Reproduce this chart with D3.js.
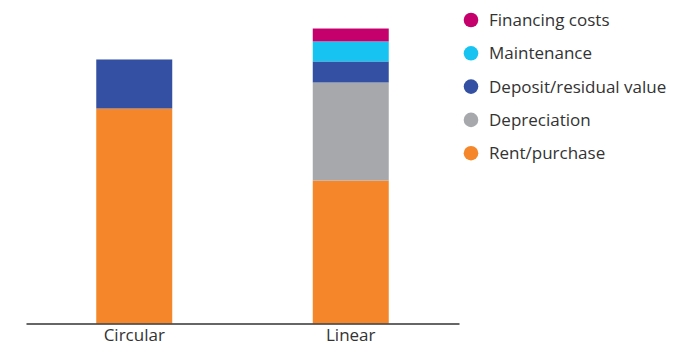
<!DOCTYPE html>
<html>
<head>
<meta charset="utf-8">
<script src="https://cdn.jsdelivr.net/npm/d3@7"></script>
<style>
  body { margin: 0; background: #fff; }
  text { font-family: "Open Sans", "Noto Sans", sans-serif; fill: #333; }
</style>
</head>
<body>
<div id="chart"></div>
<script>
// categories and series (bottom to top)
const categories = ['Circular', 'Linear'];
const seriesNames = ['Rent/purchase', 'Depreciation', 'Deposit/residual value', 'Maintenance', 'Financing costs'];
const rentPurchase = [100, 66.5];
const depreciation = [0, 45.6];
const depositResidual = [22.8, 9.8];
const maintenance = [0, 9.3];
const financingCosts = [0, 6.0];

const colors = ['#f5862a', '#a7a8ac', '#3450a2', '#17c3f1', '#c5006c'];

const W = 688, H = 347;
const baseY = 323.5;

const rows = categories.map(function (c, i) {
  return {
    cat: c,
    'Rent/purchase': rentPurchase[i],
    'Depreciation': depreciation[i],
    'Deposit/residual value': depositResidual[i],
    'Maintenance': maintenance[i],
    'Financing costs': financingCosts[i]
  };
});

const stacked = d3.stack().keys(seriesNames)(rows);

const x = d3.scaleBand()
  .domain(categories)
  .range([26, 459])
  .paddingInner(0.649)
  .paddingOuter(0.3245);

const y = d3.scaleLinear()
  .domain([0, 140])
  .range([baseY, baseY - 301]);

const svg = d3.select('#chart').append('svg')
  .attr('width', W)
  .attr('height', H);

// bars
svg.selectAll('g.layer')
  .data(stacked)
  .enter().append('g')
  .attr('class', 'layer')
  .attr('fill', function (d, i) { return colors[i]; })
  .selectAll('rect')
  .data(function (d) { return d; })
  .enter().append('rect')
  .attr('x', function (d) { return x(d.data.cat); })
  .attr('width', x.bandwidth())
  .attr('y', function (d) { return y(d[1]); })
  .attr('height', function (d) { return y(d[0]) - y(d[1]); });

// x axis
const axis = svg.append('g')
  .attr('transform', 'translate(0,' + baseY + ')')
  .call(d3.axisBottom(x).tickSize(0).tickSizeOuter(0).tickPadding(5));
axis.select('.domain').attr('stroke', '#333').attr('stroke-width', 1.3);
axis.selectAll('text')
  .style('font-size', '17px')
  .style('font-family', '"Open Sans", "Noto Sans", sans-serif')
  .attr('fill', '#333');

// legend (top to bottom)
const legendItems = seriesNames.slice().reverse();
const legend = svg.selectAll('.legend')
  .data(legendItems)
  .enter().append('g')
  .attr('class', 'legend')
  .attr('transform', function (d, i) {
    return 'translate(471,' + (20 + i * 33.3) + ')';
  });
legend.append('circle')
  .attr('r', 7.3)
  .attr('fill', function (d) { return colors[seriesNames.indexOf(d)]; });
legend.append('text')
  .attr('x', 18)
  .attr('dy', '0.35em')
  .style('font-size', '17px')
  .text(function (d) { return d; });
</script>
</body>
</html>
